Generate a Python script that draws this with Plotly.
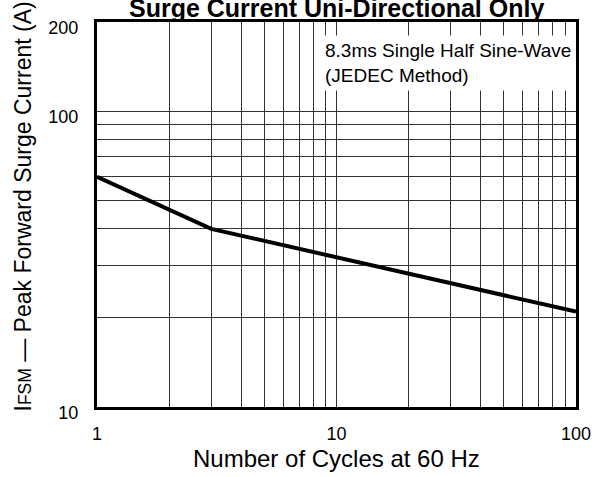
import plotly.graph_objects as go

# Data
cycles = [1, 3, 100]
peak_current = [60, 40, 21]

x_tickvals = [1, 2, 3, 4, 5, 6, 7, 8, 9, 10, 20, 30, 40, 50, 60, 70, 80, 90, 100]
x_ticktext = ["1", "", "", "", "", "", "", "", "", "10", "", "", "", "", "", "", "", "", "100"]
y_tickvals = [10, 20, 30, 40, 50, 60, 70, 80, 90, 100, 200]
y_ticktext = ["10", "", "", "", "", "", "", "", "", "100", "200"]

title_text = "Surge Current Uni-Directional Only"
x_title = "Number of Cycles at 60 Hz"
y_title = "I<span style='font-size:17.5px'>FSM</span> — Peak Forward Surge Current (A)"
note_text = "8.3ms Single Half Sine-Wave<br>(JEDEC Method)"

FONT = "Liberation Sans, Arial, sans-serif"

fig = go.Figure()
fig.add_trace(go.Scatter(
    x=cycles, y=peak_current, mode="lines",
    line=dict(color="black", width=4),
    showlegend=False, hoverinfo="skip",
))

axis_common = dict(
    showline=True, linecolor="black", linewidth=3, mirror=True,
    showgrid=True, gridcolor="#333333", gridwidth=1,
    ticks="", zeroline=False,
    tickfont=dict(family=FONT, size=18, color="black"),
)

fig.update_xaxes(type="log", range=[0, 2], tickmode="array",
                 tickvals=x_tickvals, ticktext=x_ticktext,
                 ticklabelstandoff=8, **axis_common)
fig.update_yaxes(type="log", range=[1, 2.30103], tickmode="array",
                 tickvals=y_tickvals, ticktext=y_ticktext,
                 ticklabelstandoff=12, ticklabelshift=6, **axis_common)

fig.add_annotation(text=note_text, xref="paper", yref="paper",
                   x=0.4655, y=0.8948, xanchor="left", yanchor="middle",
                   align="left", showarrow=False, bgcolor="white", borderpad=4,
                   font=dict(family=FONT, size=19, color="black"))
fig.add_annotation(text="<b>" + title_text + "</b>", xref="paper", yref="paper",
                   x=0.5, y=1.0365, xanchor="center", yanchor="middle",
                   showarrow=False, font=dict(family=FONT, size=25, color="black"))
fig.add_annotation(text=x_title, xref="paper", yref="paper",
                   x=0.5, y=-0.135, xanchor="center", yanchor="middle",
                   showarrow=False, font=dict(family=FONT, size=24, color="black"))
fig.add_annotation(text=y_title, xref="paper", yref="paper",
                   x=-0.1535, y=0.522, xanchor="center", yanchor="middle",
                   textangle=-90, showarrow=False,
                   font=dict(family=FONT, size=23, color="black"))

fig.update_layout(
    width=603, height=477,
    margin=dict(l=97, r=25, t=22, b=70),
    paper_bgcolor="white", plot_bgcolor="white",
    font=dict(family=FONT, color="black"),
)

fig.write_html("out.html", config={"displayModeBar": False},
               post_script="document.body.style.margin='0';document.body.style.overflow='hidden';")
